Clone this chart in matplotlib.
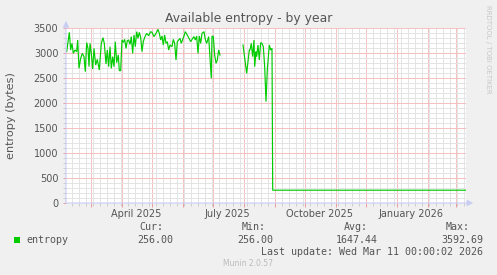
import matplotlib
matplotlib.use("Agg")
import matplotlib.pyplot as plt
import matplotlib.dates as mdates
import numpy as np
import pandas as pd

# ---------------- data ----------------
start_date = "2025-02-04"
end_date = "2026-03-11"
# days since start_date
day_offset = [0.67, 3.33, 4.67, 6, 7.33, 9, 10.67, 11.67, 13, 14.67, 16.3, 18, 19.3,
              20.67, 22, 23, 24, 25.3, 26.67, 28, 29.67, 31.3, 33.3, 35.3, 37, 38.3,
              40, 41.3, 42.67, 44, 45.3, 46.67, 48, 49.3, 50.67, 52.3, 53.3, 54.67, 56,
              57.3, 58.67, 60, 61.3, 62.67, 64, 65.3, 66.67, 68, 69.3, 70.67, 72, 73.3,
              74.67, 76, 77.3, 78.67, 80.67, 82.67, 84.67, 86, 88, 90, 92, 93.3, 94.67,
              96, 97.3, 98.67, 100, 101.3, 102.67, 104, 106, 107.3, 108.67, 110, 111.3,
              112.67, 114, 115.3, 116.67, 118, 119.3, 120.67, 122.67, 124.67, 126.67,
              128, 129.3, 130.67, 132, 133.3, 134.67, 136, 138, 139.3, 140.67, 142.67,
              144, 145.3, 146, 147.3, 148.67, 150, 151.3, 152.67, 154,
              165,
              177, 179, 180.67, 183.3, 184, 185.3, 186.67, 188, 188.67, 190, 190.67, 192,
              193.3, 194.67, 196, 197.3, 198.67, 200, 201.3, 202.67, 203.3, 204.67, 206,
              206.7, 400]
entropy = [3027, 3413, 3060, 3193, 2993, 3060, 3027, 3260, 2693, 2893, 2993, 2927, 2627,
           3207, 3093, 2727, 3193, 2993, 2680, 3093, 2760, 2873, 2660, 3193, 3307, 3193,
           2780, 3060, 2727, 3127, 2693, 2927, 2727, 3227, 2807, 2960, 2647, 2647, 3260,
           3213, 3273, 3093, 3247, 3260, 3173, 3327, 2993, 3360, 3127, 3427, 3293, 3413,
           3313, 3027, 3227, 3313, 3393, 3347, 3427, 3413, 3327, 3393, 3473, 3393, 3260,
           3340, 3160, 3360, 3193, 3227, 3060, 3160, 3127, 3273, 3193, 2860, 3227,
           3260, 3293, 3193, 3273, 3340, 3427, 3380, 3307, 3227, 3293,
           3327, 3260, 3340, 2993, 3340, 3193, 3393, 3427, 3273, 3193, 3327,
           2893, 2493, 3340, 3327, 2960, 2793, 2860, 3060, 2960,
           np.nan,
           3160, 2860, 2593, 3060, 3060, 3193, 2927, 3260, 2727, 3027, 2927, 3160,
           2860, 3207, 3193, 3127, 2727, 2027, 2660, 2993, 3160, 3060, 3093,
           256, 256]

month_labels = ["April 2025", "July 2025", "October 2025", "January 2026"]
label_dates = ["2025-04-15", "2025-07-15", "2025-10-15", "2026-01-15"]
legend_name = "entropy"
stats_names = ["Cur:", "Min:", "Avg:", "Max:"]
stats_values = ["256.00", "256.00", "1647.44", "3592.69"]

# ---------------- figure ----------------
W, H = 497, 275
fig = plt.figure(figsize=(W / 100, H / 100), dpi=100, facecolor="#F0F0F0")

L, R, T, B = 66, 466, 28, 203
ax = fig.add_axes([L / W, 1 - B / H, (R - L) / W, (B - T) / H])
ax.set_facecolor("white")

t0 = pd.Timestamp(start_date)
times = [t0 + pd.Timedelta(days=d) for d in day_offset]
ax.plot(times, entropy, color="#00CC00", lw=0.85, zorder=5, solid_joinstyle="miter")

ax.set_xlim(t0, pd.Timestamp(end_date))
ax.set_ylim(0, 3500)

minor_col = "#E4E4E4"
major_col = "#F4C0C0"

# grid
ax.xaxis.set_major_locator(mdates.MonthLocator())
ax.xaxis.set_minor_locator(mdates.WeekdayLocator(byweekday=mdates.MO))
ax.yaxis.set_major_locator(plt.MultipleLocator(500))
ax.yaxis.set_minor_locator(plt.MultipleLocator(100))
ax.grid(which="minor", color=minor_col, lw=0.72, ls="-", zorder=1)
ax.grid(which="major", color=major_col, lw=0.72, ls="-", zorder=2)
ax.set_axisbelow(True)

ax.xaxis.set_major_formatter(plt.NullFormatter())
ax.tick_params(axis="x", which="major", length=3, width=0.7, color="#EE9999")
ax.tick_params(axis="x", which="minor", length=2, width=0.7, color="#CCCCCC")
ax.tick_params(axis="y", which="major", length=2, width=0.7, color="#EE9999",
               labelsize=7, labelcolor="#555555", pad=3.5)
ax.tick_params(axis="y", which="minor", length=2, width=0.7, color="#CCCCCC")
ax.set_yticks([0, 500, 1000, 1500, 2000, 2500, 3000, 3500])
ax.set_yticklabels(["0", "500", "1000", "1500", "2000", "2500", "3000", "3500"])

for s in ax.spines.values():
    s.set_visible(False)

# month labels centered mid-month
for lab, d in zip(month_labels, label_dates):
    ax.text(pd.Timestamp(d), -0.035, lab, transform=ax.get_xaxis_transform(),
            ha="center", va="top", fontsize=7, color="#555555")

# axes with arrows
axis_col = "#C8CDF4"
ax.annotate("", xy=(1.018, 0), xytext=(0, 0), xycoords="axes fraction",
            arrowprops=dict(arrowstyle="-|>,head_length=0.35,head_width=0.18",
                            color=axis_col, lw=0.8, shrinkA=0, shrinkB=0), zorder=6,
            annotation_clip=False)
ax.annotate("", xy=(0, 1.04), xytext=(0, 0), xycoords="axes fraction",
            arrowprops=dict(arrowstyle="-|>,head_length=0.35,head_width=0.18",
                            color=axis_col, lw=0.8, shrinkA=0, shrinkB=0), zorder=6,
            annotation_clip=False)

def fx(x):
    return x / W

def fy(y):
    return 1 - y / H

txt = "#555555"
fig.text(fx(248.5), fy(22), "Available entropy - by year", ha="center", va="baseline",
         fontsize=8.9, color=txt)
fig.text(fx(11), fy(115.5), "entropy (bytes)", rotation=90, ha="center", va="center",
         fontsize=8.1, color=txt)
fig.text(fx(488), fy(5), "RRDTOOL / TOBI OETIKER", rotation=270, ha="center", va="top",
         fontsize=5, color="#C8C8C8")

# legend
mono = "DejaVu Sans Mono"
fig.patches.append(plt.Rectangle((fx(14), fy(243)), 6 / W, 6 / H, transform=fig.transFigure,
                                 facecolor="#00CC00", edgecolor="none"))
fig.text(fx(26.5), fy(240), legend_name, ha="left", va="center", family=mono,
         fontsize=7.2, color=txt)
head_right = [163, 266, 368, 470]
val_right = [173, 273, 378, 483]
for n, v, hr, vr in zip(stats_names, stats_values, head_right, val_right):
    fig.text(fx(hr), fy(227.5), n, ha="right", va="center", family=mono, fontsize=7.2, color=txt)
    fig.text(fx(vr), fy(240), v, ha="right", va="center", family=mono, fontsize=7.2, color=txt)
fig.text(fx(483), fy(252), "Last update: Wed Mar 11 00:00:02 2026", ha="right", va="center",
         family=mono, fontsize=7.2, color=txt)
fig.text(fx(248), fy(263.5), "Munin 2.0.57", ha="center", va="center", fontsize=5.5,
         color="#BBBBBB")

fig.savefig("out.png", dpi=100, facecolor=fig.get_facecolor())
